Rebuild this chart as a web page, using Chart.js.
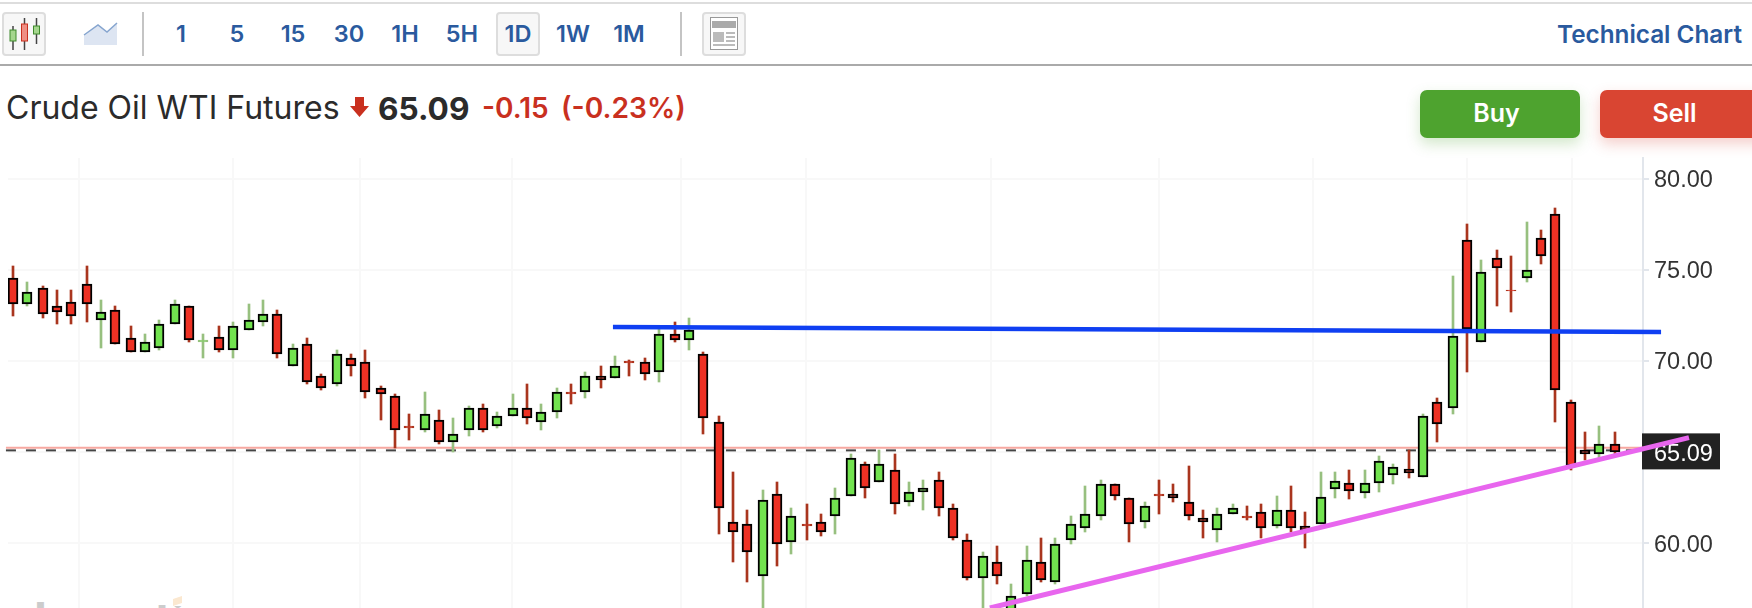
<!DOCTYPE html>
<html>
<head>
<meta charset="utf-8">
<title>Crude Oil WTI Futures</title>
<script src="https://cdn.jsdelivr.net/npm/chart.js@4"></script>
<style>
  html, body { margin: 0; padding: 0; background: #fff; }
  body { position: relative; width: 1752px; height: 608px; overflow: hidden; font-family: Inter, sans-serif; }
  .abs { position: absolute; white-space: nowrap; }
  .rule { position: absolute; left: 0; width: 1752px; }
  .tf { position: absolute; top: 20px; line-height: 28px; font-size: 23.5px; font-weight: 600; color: #2a5a9e; transform: translateX(-50%); }
  .btn { position: absolute; top: 12px; height: 40px; box-sizing: content-box; background: #f7f7f7; border: 2px solid #ddd; border-radius: 4px; }
  .sep { position: absolute; top: 12px; width: 2px; height: 44px; background: #c4c4c4; }
  .trade { position: absolute; top: 90px; height: 48px; line-height: 46px; text-align: center; color: #fff; font-size: 25px; font-weight: 600; border-radius: 7px; box-sizing: border-box; }
  #chart { position: absolute; left: 0; top: 0; }
</style>
</head>
<body>
<div class="rule" style="top:2px;height:2px;background:#ddd"></div>
<div class="rule" style="top:64px;height:2px;background:#aaa"></div>

<div class="btn" style="left:2px;width:40px"></div>
<svg class="abs" style="left:0;top:0" width="120" height="60">
  <path d="M13 26V50M24.5 18V50M36.5 18V44" stroke="#444" stroke-width="1.5"/>
  <rect x="10" y="30" width="6" height="11" fill="#a5d68e" stroke="#3f8a2c"/>
  <rect x="21.5" y="24" width="6" height="17" fill="#ef8f84" stroke="#c9301f"/>
  <rect x="33.5" y="26" width="6" height="8" fill="#a5d68e" stroke="#3f8a2c"/>
  <path d="M84 35L98 25L107 32L117 23V45H84Z" fill="#dde5f2"/>
  <path d="M84 35L98 25L107 32L117 23" fill="none" stroke="#86a5cf" stroke-width="1.5"/>
</svg>
<div class="sep" style="left:142px"></div>
<span class="tf" style="left:181px">1</span>
<span class="tf" style="left:237px">5</span>
<span class="tf" style="left:293px">15</span>
<span class="tf" style="left:349px">30</span>
<span class="tf" style="left:405px">1H</span>
<span class="tf" style="left:462px">5H</span>
<div class="btn" style="left:496px;width:40px"></div>
<span class="tf" style="left:518px">1D</span>
<span class="tf" style="left:573px">1W</span>
<span class="tf" style="left:629px">1M</span>
<div class="sep" style="left:680px"></div>
<div class="btn" style="left:702px;width:40px"></div>
<svg class="abs" style="left:700px;top:10px" width="50" height="50">
  <rect x="10.5" y="7.5" width="27" height="32" fill="#fff" stroke="#999"/>
  <rect x="12" y="11" width="24" height="7" fill="#aaa"/>
  <rect x="13" y="22" width="11" height="10" fill="#bbb"/>
  <path d="M26 23H35M26 27H35M26 31H35M13 35H35" stroke="#bbb" stroke-width="2"/>
</svg>
<span class="abs" style="left:1557px;top:20px;line-height:28px;font-size:24.3px;font-weight:600;color:#2a5a9e">Technical Chart</span>

<span class="abs" style="left:6px;top:89px;line-height:38px;font-size:32px;color:#2b2b2b">Crude Oil WTI Futures</span>
<svg class="abs" style="left:349px;top:96px" width="21" height="22"><path d="M6 1H15V10H20L10.5 21L1 10H6Z" fill="#c9301f"/></svg>
<span class="abs" style="left:378px;top:90px;line-height:38px;font-size:31.6px;font-weight:700;color:#2b2b2b">65.09</span>
<span class="abs" style="left:482px;top:89px;line-height:38px;font-size:28px;font-weight:600;color:#c9301f">-0.15</span>
<span class="abs" style="left:561px;top:89px;line-height:38px;font-size:28.2px;font-weight:600;color:#c9301f">(-0.23%)</span>

<div class="trade" style="left:1420px;width:160px;padding-right:7px;background:#4ea32f;box-shadow:0 6px 14px rgba(78,163,47,.25)">Buy</div>
<div class="trade" style="left:1600px;width:170px;padding-right:21px;background:#d94532;box-shadow:0 6px 14px rgba(217,69,50,.25)">Sell</div>

<span class="abs" style="left:34px;top:590px;line-height:58px;font-size:46px;font-weight:700;color:#ccc">Investing</span>
<div class="abs" style="left:168px;top:590px;width:18px;height:16px;background:#fff"></div>
<div class="abs" style="left:173px;top:596px;width:9px;height:10px;background:#fbe8d0;clip-path:polygon(0 30%,100% 0,100% 70%,0 100%)"></div>

<canvas id="chart" width="1752" height="608"></canvas>

<script>
// one candle per trading day
const highs = [75.22,74.34,74.12,73.90,73.90,75.22,73.35,73.02,71.92,71.48,72.25,73.35,73.00,71.48,71.92,72.14,73.13,73.35,72.80,70.93,71.26,69.29,70.60,70.38,70.60,68.63,68.19,67.09,68.30,67.31,
  66.87,67.53,67.64,67.20,68.19,68.74,67.64,68.52,68.74,69.40,69.73,70.28,70.06,70.17,71.76,72.14,72.36,70.51,66.98,63.90,61.81,62.91,63.35,61.92,62.14,61.59,63.02,64.89,64.45,65.11,
  64.89,63.35,63.46,63.90,62.14,60.49,59.50,59.84,57.75,59.84,60.27,60.27,61.48,63.13,63.46,63.22,62.46,62.25,63.46,63.24,64.23,61.81,61.92,62.14,62.03,62.14,62.58,63.13,61.70,63.90,
  63.90,64.01,64.01,64.78,64.34,65.11,67.09,67.97,74.67,77.53,75.55,76.10,75.77,77.64,77.20,78.41,67.86,66.10,66.43,66.10];
const opens = [74.54,73.15,73.99,73.00,73.22,74.21,72.27,72.78,71.25,70.51,70.73,72.05,73.00,71.07,71.34,70.62,71.72,72.16,72.56,69.74,70.91,69.16,68.75,70.15,69.93,68.50,68.06,66.42,66.23,66.74,
  65.57,66.23,67.40,66.45,67.00,67.40,66.67,67.22,68.29,68.32,69.18,69.08,69.98,69.93,69.41,71.47,71.17,70.37,66.63,61.14,61.03,58.21,62.68,60.07,61.04,61.14,61.50,62.60,64.32,63.37,
  63.99,62.27,62.80,63.44,61.90,60.15,58.10,58.94,56.20,57.21,58.94,57.88,60.18,60.84,61.50,63.22,62.46,61.17,62.69,62.69,62.23,61.37,60.73,61.61,61.48,61.69,60.95,61.79,60.93,61.06,
  62.97,63.30,62.75,63.30,63.74,64.09,63.63,67.73,67.44,76.63,71.06,75.64,73.92,74.58,76.74,78.06,67.73,65.09,64.91,65.42];
const closes = [73.15,73.77,72.60,72.71,72.49,73.15,72.67,70.95,70.51,71.02,72.01,73.11,71.17,71.17,70.62,71.90,72.23,72.56,70.40,70.70,68.86,68.54,70.37,69.74,68.31,68.21,66.23,66.32,67.07,65.57,
  65.97,67.40,66.23,66.96,67.40,66.89,67.18,68.28,68.19,69.16,68.96,69.71,69.88,69.30,71.47,71.17,71.69,66.89,61.94,60.62,59.53,62.36,59.96,61.47,60.94,60.62,62.45,64.65,63.04,64.32,
  62.16,62.78,63.02,61.94,60.29,58.10,59.27,58.20,57.07,59.05,57.98,59.93,61.03,61.58,63.22,62.60,61.06,62.02,62.59,62.47,61.50,61.15,61.57,61.90,61.38,60.84,61.79,60.84,60.71,62.55,
  63.40,62.86,63.30,64.51,64.18,63.83,66.96,66.56,71.36,71.76,74.87,75.13,73.82,74.98,75.79,68.42,64.25,64.91,65.42,65.02];
const lows = [72.47,73.02,72.36,72.03,72.03,72.14,70.71,70.95,70.51,70.51,70.60,72.05,71.04,70.16,70.49,70.16,71.72,71.92,70.16,69.74,68.74,68.41,68.63,69.18,67.97,66.76,65.22,65.66,66.10,65.44,
  65.00,65.88,66.10,66.32,67.00,66.54,66.21,66.87,67.64,67.97,68.52,69.08,69.18,68.96,68.85,71.04,70.60,65.99,60.50,58.96,57.86,56.00,58.74,59.40,60.16,60.38,60.50,62.60,62.47,63.37,
  61.59,62.03,61.81,61.48,60.17,57.97,56.00,57.75,55.80,57.09,57.86,57.75,59.95,60.61,61.26,62.36,60.05,60.82,61.59,62.25,61.26,60.27,60.05,61.61,61.26,60.27,60.82,60.61,59.72,61.06,
  62.47,62.40,62.47,62.80,63.24,63.57,63.63,65.55,67.09,69.40,71.06,73.02,72.69,74.34,75.33,66.65,64.01,64.56,64.67,64.89];

const yTicks = [60, 65, 70, 75, 80];
const xTicks = [4.5, 15, 23.6, 34, 45.5, 54, 66.6, 78, 88.5, 99, 106.1];
const lastPrice = 65.09;
const prevClose = 65.24;
const resistance = [{x: 40.84, y: 71.87}, {x: 112.19, y: 71.59}];
const support = [{x: 66.5, y: 56.43}, {x: 114.09, y: 65.79}];

const RED = "#ee3124", GREEN = "#72e34f";
const RED_WICK = "#a9351e", GREEN_WICK = "#97c07f";

const isUp = i => closes[i] >= opens[i];
const isDoji = i => Math.abs(closes[i] - opens[i]) < 0.15;
const wickColor = i => isUp(i) ? GREEN_WICK : RED_WICK;

const wicks = highs.map((h, i) => ({x: i, y: [lows[i], h]}));
const bodies = opens.map((o, i) => ({x: i, y: [o, closes[i]]}));
const flat = v => [{x: -0.48, y: v}, {x: 110.96, y: v}];

// the source chart puts every candle on whole pixels
const snapBars = {
  id: "snapBars",
  afterDatasetsUpdate(chart) {
    chart.data.datasets.forEach((ds, n) => {
      if (ds.type !== "bar") return;
      chart.getDatasetMeta(n).data.forEach(el => {
        el.x = 2 * Math.round((el.x - 1) / 2) + 1;
        el.y = Math.round(el.y);
        el.base = Math.round(el.base);
      });
    });
  }
};

const priceTag = {
  id: "priceTag",
  beforeDatasetsDraw(chart) {
    const ctx = chart.ctx;
    const y = chart.scales.y.getPixelForValue(lastPrice);
    ctx.save();
    ctx.fillStyle = "#222";
    ctx.fillRect(1642, y - 17, 78, 36);
    ctx.fillStyle = "#fff";
    ctx.font = "23.5px 'Liberation Sans'";
    ctx.textBaseline = "middle";
    ctx.fillText(lastPrice.toFixed(2), 1654, y + 4);
    ctx.restore();
  }
};

const noPadding = s => { s.paddingTop = s.paddingBottom = s.paddingLeft = s.paddingRight = 0; };

new Chart(document.getElementById("chart"), {
  data: {
    datasets: [
      {type: "line", data: resistance, borderColor: "#0f3ff2", borderWidth: 4.5, pointRadius: 0, clip: false, order: 0},
      {type: "line", data: support, borderColor: "#e866ee", borderWidth: 5, pointRadius: 0, clip: false, order: 0},
      {type: "bar", data: bodies, barThickness: 10, grouped: false, borderWidth: 2, borderSkipped: false,
        backgroundColor: bodies.map((b, i) => isUp(i) ? GREEN : RED),
        borderColor: bodies.map((b, i) => isDoji(i) ? wickColor(i) : "#000"), order: 1},
      {type: "bar", data: wicks, barThickness: 2, grouped: false, borderWidth: 0,
        backgroundColor: wicks.map((w, i) => wickColor(i)), order: 2},
      {type: "line", data: flat(lastPrice), borderColor: "#444", borderWidth: 2, borderDash: [10, 10], pointRadius: 0, clip: false, order: 3},
      {type: "line", data: flat(prevClose), borderColor: "#f7a8a1", borderWidth: 2, pointRadius: 0, clip: false, order: 3}
    ]
  },
  options: {
    responsive: false,
    animation: false,
    layout: {padding: {left: 8, top: 158}},
    plugins: {legend: {display: false}, tooltip: {enabled: false}},
    scales: {
      x: {
        type: "linear",
        offset: false,
        min: -0.34,
        max: 110.96,
        border: {display: false},
        grid: {color: "#f8f8f8", lineWidth: 2, drawTicks: false, offset: false},
        ticks: {display: false},
        afterBuildTicks: s => { s.ticks = xTicks.map(v => ({value: v})); },
        afterFit: s => { s.height = 0; noPadding(s); }
      },
      y: {
        position: "right",
        min: 56.43,
        max: 81.154,
        border: {color: "#e2e6ec", width: 2},
        grid: {color: "#f8f8f8", lineWidth: 2, tickLength: 6, tickColor: "#e2e6ec", tickWidth: 2},
        ticks: {
          padding: 5,
          labelOffset: 2,
          color: "#333",
          font: {family: "'Liberation Sans'", size: 23.5},
          callback: v => v.toFixed(2)
        },
        afterBuildTicks: s => { s.ticks = yTicks.map(v => ({value: v})); },
        afterFit: s => { s.width = 109; noPadding(s); }
      }
    }
  },
  plugins: [snapBars, priceTag]
});
</script>
</body>
</html>
